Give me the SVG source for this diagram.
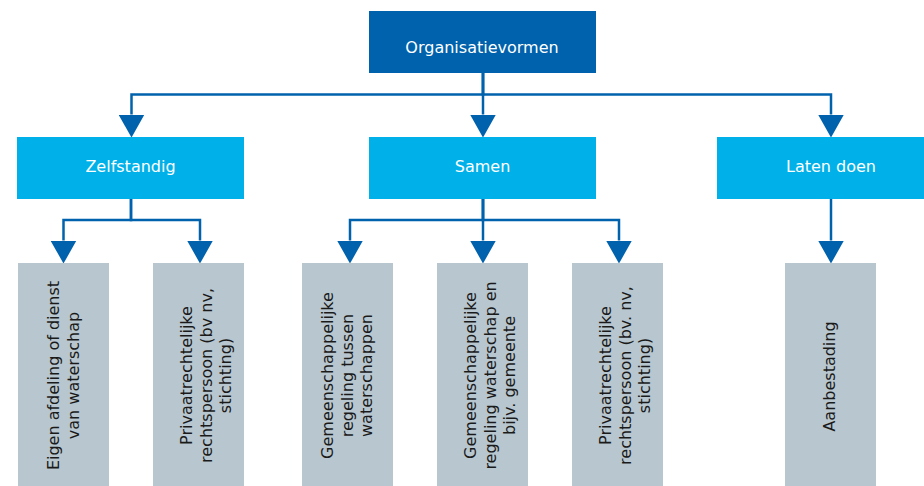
<svg xmlns="http://www.w3.org/2000/svg" width="924" height="486" viewBox="0 0 924 486">
<style>
.root{fill:#0061AC}
.cat{fill:#00B1E9}
.leaf{fill:#B8C7CF}
.hdr{font-family:"DejaVu Sans",sans-serif;font-size:16px;fill:#FFFFFF;text-anchor:middle}
.lt{font-family:"DejaVu Sans",sans-serif;font-size:16px;fill:#1A1A1A;text-anchor:middle}
.conn{fill:none;stroke:#0061AC;stroke-width:2.5;marker-end:url(#arr)}
</style>
<defs>
<marker id="arr" markerUnits="userSpaceOnUse" viewBox="0 0 23 26" refX="0" refY="13" markerWidth="23" markerHeight="26" orient="auto">
<path d="M0,0 L23,13 L0,26 Z" fill="#0061AC"/>
</marker>
</defs>
<rect width="924" height="486" fill="#FFFFFF"/>
<g id="connectors">
<path class="conn" d="M483,73 V94.5 H131.5 V114.5"/>
<path class="conn" d="M483,73 V114.5"/>
<path class="conn" d="M483,73 V94.5 H831 V114.5"/>
<path class="conn" d="M131,199 V220 H63.5 V240.5"/>
<path class="conn" d="M131,199 V220 H200 V240.5"/>
<path class="conn" d="M483,199 V220 H350 V240.5"/>
<path class="conn" d="M483,199 V240.5"/>
<path class="conn" d="M483,199 V220 H619 V240.5"/>
<path class="conn" d="M831,199 V240.5"/>
</g>
<g id="organisatievormen">
<rect class="root" x="369" y="11" width="227" height="62"/>
<text class="hdr" x="482" y="53">Organisatievormen</text>
</g>
<g id="zelfstandig">
<rect class="cat" x="17" y="137" width="227" height="62"/>
<text class="hdr" x="130.5" y="172">Zelfstandig</text>
</g>
<g id="samen">
<rect class="cat" x="369" y="137" width="227" height="62"/>
<text class="hdr" x="482.5" y="172">Samen</text>
</g>
<g id="laten-doen">
<rect class="cat" x="717" y="137" width="228" height="62"/>
<text class="hdr" x="831" y="172">Laten doen</text>
</g>
<g id="eigen-afdeling">
<rect class="leaf" x="18" y="263" width="91" height="224"/>
<text class="lt" transform="translate(0,375.5) rotate(-90)"><tspan x="0" y="59">Eigen afdeling of dienst</tspan><tspan x="0" y="78.5">van waterschap</tspan></text>
</g>
<g id="privaat-zelfstandig">
<rect class="leaf" x="153" y="263" width="91" height="224"/>
<text class="lt" transform="translate(0,375.5) rotate(-90)"><tspan x="0" y="192">Privaatrechtelijke</tspan><tspan x="0" y="211.7">rechtspersoon (bv nv,</tspan><tspan x="0" y="231.4">stichting)</tspan></text>
</g>
<g id="gr-waterschappen">
<rect class="leaf" x="302" y="263" width="91" height="224"/>
<text class="lt" transform="translate(0,375.5) rotate(-90)"><tspan x="0" y="333">Gemeenschappelijke</tspan><tspan x="0" y="352.5">regeling tussen</tspan><tspan x="0" y="372">waterschappen</tspan></text>
</g>
<g id="gr-gemeente">
<rect class="leaf" x="437" y="263" width="91" height="224"/>
<text class="lt" transform="translate(0,375.5) rotate(-90)"><tspan x="0" y="476">Gemeenschappelijke</tspan><tspan x="0" y="495.7">regeling waterschap en</tspan><tspan x="0" y="515.4">bijv. gemeente</tspan></text>
</g>
<g id="privaat-samen">
<rect class="leaf" x="572" y="263" width="91" height="224"/>
<text class="lt" transform="translate(0,375.5) rotate(-90)"><tspan x="0" y="611">Privaatrechtelijke</tspan><tspan x="0" y="630.7">rechtspersoon (bv. nv,</tspan><tspan x="0" y="650.4">stichting)</tspan></text>
</g>
<g id="aanbesteding">
<rect class="leaf" x="785" y="263" width="91" height="224"/>
<text class="lt" transform="translate(0,376.5) rotate(-90)"><tspan x="0" y="835">Aanbestading</tspan></text>
</g>
</svg>
